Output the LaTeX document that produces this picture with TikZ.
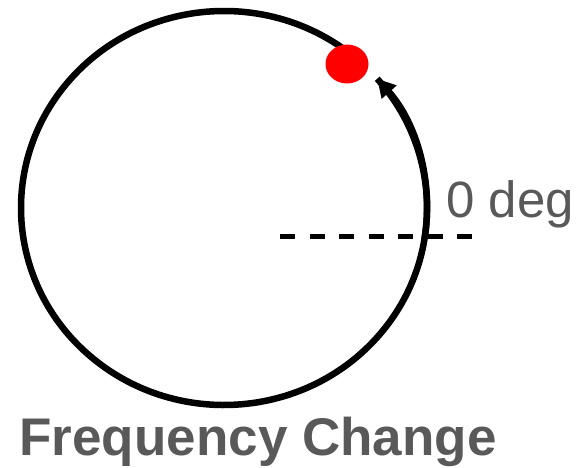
\documentclass[tikz,border=0pt]{standalone}
\usepackage{fontspec}
\usepackage{xcolor}
\usetikzlibrary{arrows.meta, shapes.geometric, calc}
\setmainfont{Liberation Sans}
\definecolor{label}{HTML}{595959}
\definecolor{marker}{HTML}{FF0000}

\begin{document}
\begin{tikzpicture}[x=1pt, y=1pt, every node/.style={text=label, inner sep=0pt}]
        \useasboundingbox (0,0) rectangle (577,467);
        \coordinate (c) at (224,259);
        \coordinate (ref0) at (280,231);
        \coordinate (ref1) at (472,231);

        \draw[line width=6.5pt] ($(c)+(50:203 and 197)$)
          arc[start angle=50, end angle=401, x radius=203, y radius=197];
        \draw[line width=6.5pt, -{Triangle[length=18pt, width=19pt]}] ($(c)+(-9:203 and 197)$)
          arc[start angle=-9, end angle=41, x radius=203, y radius=197];
        \draw[line width=5pt, dash pattern=on 15pt off 14.5pt] (ref0) -- (ref1);
        \node[ellipse, fill=marker, minimum width=43pt, minimum height=39pt] (dot) at (347,403) {};

        \node[anchor=base west, font=\fontsize{51}{60}\selectfont] (deg) at (446,250) {0 deg};
        \node[anchor=base, font=\fontsize{53}{62}\selectfont\bfseries] (title) at (258,12) {Frequency Change};
      \end{tikzpicture}
\end{document}
